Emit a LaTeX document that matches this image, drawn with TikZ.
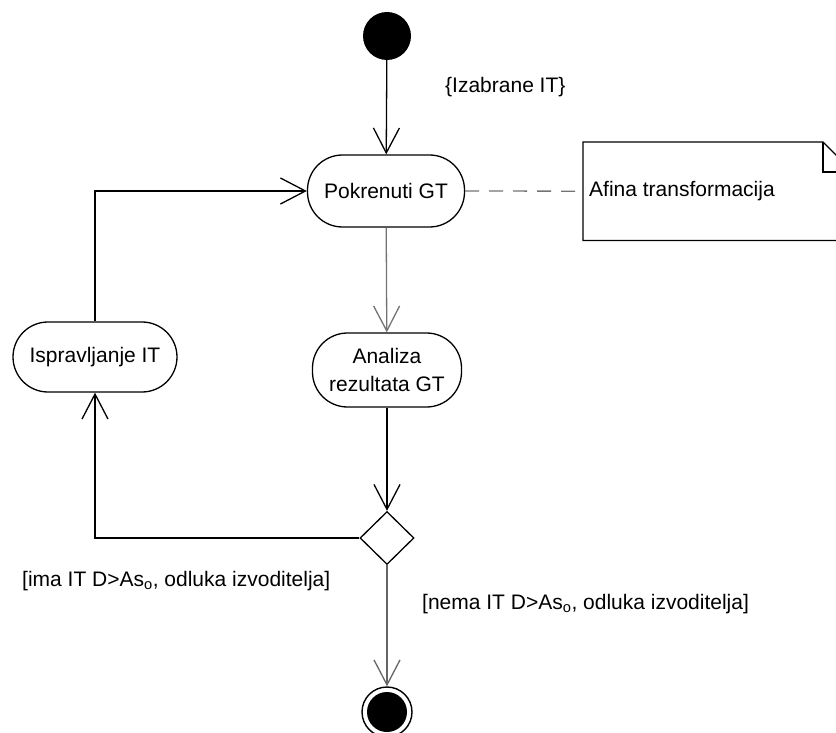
\documentclass[tikz,border=0pt]{standalone}
\usepackage{fontspec}
\setmainfont{Liberation Sans}
\usetikzlibrary{shapes.geometric,arrows.meta}
\begin{document}
\begin{tikzpicture}[x=1pt,y=-1pt,
  every node/.style={font=\fontsize{21}{28}\selectfont, inner sep=0pt},
  action/.style={draw, line width=1.3pt, rounded corners=35pt, align=center},
  flow/.style={line width=1.3pt, -{Straight Barb[length=25pt,width=26pt,line width=1.3pt]}},
  label/.style={anchor=west, text=black},
]
\useasboundingbox (0,0) rectangle (836,733);
\clip (0,0) rectangle (836,733);

% initial and final states
\node[circle, fill=black, minimum size=48pt] (start) at (387,36) {};
\node[circle, draw, line width=1.4pt, minimum size=50pt] (end) at (387,712) {};
\node[circle, fill=black, minimum size=40pt] (endin) at (end) {};

% actions
\node[action, minimum width=157pt, minimum height=72pt] (pok) at (386,191) {Pokrenuti GT};
\node[action, minimum width=149pt, minimum height=74pt] (ana) at (387,370) {Analiza\\rezultata GT};
\node[action, minimum width=164pt, minimum height=70pt] (isp) at (95,357) {Ispravljanje IT};

% decision
\node[diamond, draw, line width=1.3pt, minimum width=54pt, minimum height=53pt] (dec) at (387,538) {};

% note with folded corner
\node[minimum width=270pt, minimum height=98pt, anchor=north west] (note) at (583,142) {};
\draw[line width=1.3pt] (note.north west) -- (823,142) -- (853,172) -- (note.south east) -- (note.south west) -- cycle;
\draw[line width=1.3pt] (823,142) -- (823,172) -- (853,172);
\node[anchor=west] (notetext) at (589,191) {Afina transformacija};

% flows
\draw[flow] (start) -- (pok);
\draw[flow, black!55] (pok) -- (ana);
\draw[flow] (ana) -- (dec);
\draw[flow, black!60] (dec) -- (end);
\draw[flow] (dec.west) -| (isp.south);
\draw[flow] (isp.north) |- (pok.west);
\draw[line width=1.3pt, black!55, dash pattern=on 14pt off 10pt] (pok.east) -- (note.west);

% labels
\node[label] (lblstart) at (445,87) {\{Izabrane IT\}};
\node[label] (lblyes) at (22,581) {[ima IT D>As\textsubscript{o}, odluka izvoditelja]};
\node[label] (lblno) at (422,604) {[nema IT D>As\textsubscript{o}, odluka izvoditelja]};
\end{tikzpicture}
\end{document}
